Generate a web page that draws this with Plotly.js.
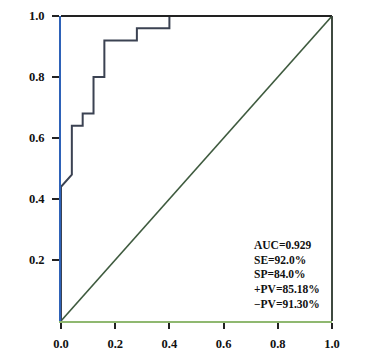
<!DOCTYPE html>
<html><head><meta charset="utf-8">
<script src="https://cdn.plot.ly/plotly-3.0.1.min.js"></script>
<style>html,body{margin:0;padding:0;background:#fff}#chart{width:365px;height:359px}</style>
</head><body><div id="chart"></div>
<script>
// ROC curve points (1 - specificity, sensitivity)
const rocFPR = [0, 0, 0.04, 0.04, 0.08, 0.08, 0.12, 0.12, 0.16, 0.16, 0.28, 0.28, 0.40, 0.40, 1.0];
const rocTPR = [0, 0.44, 0.48, 0.64, 0.64, 0.68, 0.68, 0.80, 0.80, 0.92, 0.92, 0.96, 0.96, 1.0, 1.0];
// Reference line
const refX = [0, 1];
const refY = [0, 1];
// Tick labels
const xTicks = [0, 0.2, 0.4, 0.6, 0.8, 1.0];
const xTickText = ["0.0", "0.2", "0.4", "0.6", "0.8", "1.0"];
const yTicks = [0.2, 0.4, 0.6, 0.8, 1.0];
const yTickText = ["0.2", "0.4", "0.6", "0.8", "1.0"];
// Statistics text
const statLines = ["AUC=0.929", "SE=92.0%", "SP=84.0%", "+PV=85.18%", "\u2212PV=91.30%"];

const font = {family: "Liberation Serif, Times New Roman, serif", size: 12.5, color: "#111"};

const traces = [
  {x: refX, y: refY, mode: "lines", line: {color: "#3e5a3e", width: 1.5}, hoverinfo: "skip", showlegend: false},
  {x: rocFPR, y: rocTPR, mode: "lines", line: {color: "#3b4252", width: 2}, showlegend: false}
];

const annotations = statLines.map((t, i) => ({
  x: 0.705, y: 0.249 - i * 0.048, xref: "x", yref: "y",
  text: "<b>" + t + "</b>", showarrow: false, xanchor: "left", yanchor: "middle",
  font: {family: font.family, size: 11.5, color: "#111"}
}));

const layout = {
  width: 365, height: 359,
  margin: {l: 61, r: 33, t: 16, b: 38},
  paper_bgcolor: "#fff", plot_bgcolor: "#fff",
  font: font,
  xaxis: {range: [0, 1], tickvals: xTicks, ticktext: xTickText.map(s => "<b>" + s + "</b>"),
          showgrid: false, zeroline: false, showline: true, linecolor: "#8fb870", linewidth: 2,
          ticks: "outside", ticklen: 6, tickwidth: 2, tickcolor: "#222", ticklabelstandoff: 4,
          fixedrange: true, layer: "above traces"},
  yaxis: {range: [0, 1], tickvals: yTicks, ticktext: yTickText.map(s => "<b>" + s + "</b>"),
          showgrid: false, zeroline: false, showline: true, linecolor: "#2e62b8", linewidth: 2,
          ticks: "outside", ticklen: 7, tickwidth: 2, tickcolor: "#222", ticklabelstandoff: 5,
          fixedrange: true, layer: "above traces"},
  shapes: [
    {type: "line", xref: "paper", yref: "paper", x0: 0, x1: 1, y0: 1, y1: 1, line: {color: "#222", width: 2}},
    {type: "line", xref: "paper", yref: "paper", x0: 1, x1: 1, y0: 0, y1: 1, line: {color: "#3f4a40", width: 2}}
  ],
  annotations: annotations
};

Plotly.newPlot("chart", traces, layout, {displayModeBar: false, staticPlot: true});
</script></body></html>
